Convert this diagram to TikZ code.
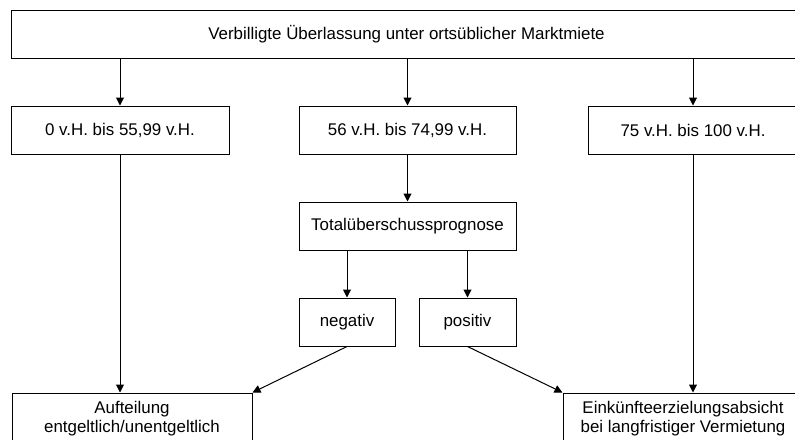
\documentclass[tikz,border=0pt]{standalone}
\usepackage{fontspec}
\setmainfont{Liberation Sans}
\usepackage{tikz}
\usepackage{xcolor}
\usetikzlibrary{arrows.meta}
\tikzset{
    flow-box/.style = {draw=black, fill=white, line width=1pt, rectangle, inner sep=0pt, minimum height=48pt, font=\fontsize{16.9}{18.5}\selectfont},
    flow-arrow/.style = {draw=black, line width=1pt, -{Triangle[width=8pt,length=8pt]}},
}

\begin{document}
\begin{tikzpicture}[x=1pt, y=-1pt]
\useasboundingbox (0,0) rectangle (795,439);
\clip (0,0) rectangle (795,439);
\node [flow-box, minimum width=791pt] (markt) at (406.5,34) {Verbilligte Überlassung unter ortsüblicher Marktmiete};
\node [flow-box, minimum width=218pt] (niedrig) at (120,130) {0 v.H. bis 55,99 v.H.};
\node [flow-box, minimum width=217pt] (mittel) at (407.5,130) {56 v.H. bis 74,99 v.H.};
\node [flow-box, minimum width=210pt] (hoch) at (693,130) {75 v.H. bis 100 v.H.};
\node [flow-box, minimum width=217pt] (prognose) at (407.5,226) {Totalüberschussprognose};
\node [flow-box, minimum width=96pt] (negativ) at (347,322) {negativ};
\node [flow-box, minimum width=97pt] (positiv) at (467.5,322) {positiv};
\node [flow-box, minimum width=240pt, minimum height=51pt, align=center] (aufteilung) at (132,418.5) {Aufteilung\\entgeltlich/unentgeltlich};
\node [flow-box, minimum width=240pt, minimum height=51pt, align=center] (absicht) at (683,418.5) {Einkünfteerzielungsabsicht\\bei langfristiger Vermietung};

\draw [flow-arrow] (markt.south -| niedrig) -- (niedrig);
\draw [flow-arrow] (markt.south -| mittel) -- (mittel);
\draw [flow-arrow] (markt.south -| hoch) -- (hoch);
\draw [flow-arrow] (mittel) -- (prognose);
\draw [flow-arrow] (prognose.south -| negativ) -- (negativ);
\draw [flow-arrow] (prognose.south -| positiv) -- (positiv);
\draw [flow-arrow] (niedrig.south) -- (niedrig |- aufteilung.north);
\draw [flow-arrow] (hoch.south) -- (hoch |- absicht.north);
\draw [flow-arrow] (negativ.south) -- (aufteilung.north east);
\draw [flow-arrow] (positiv.south) -- (absicht.north west);
\end{tikzpicture}
\end{document}
